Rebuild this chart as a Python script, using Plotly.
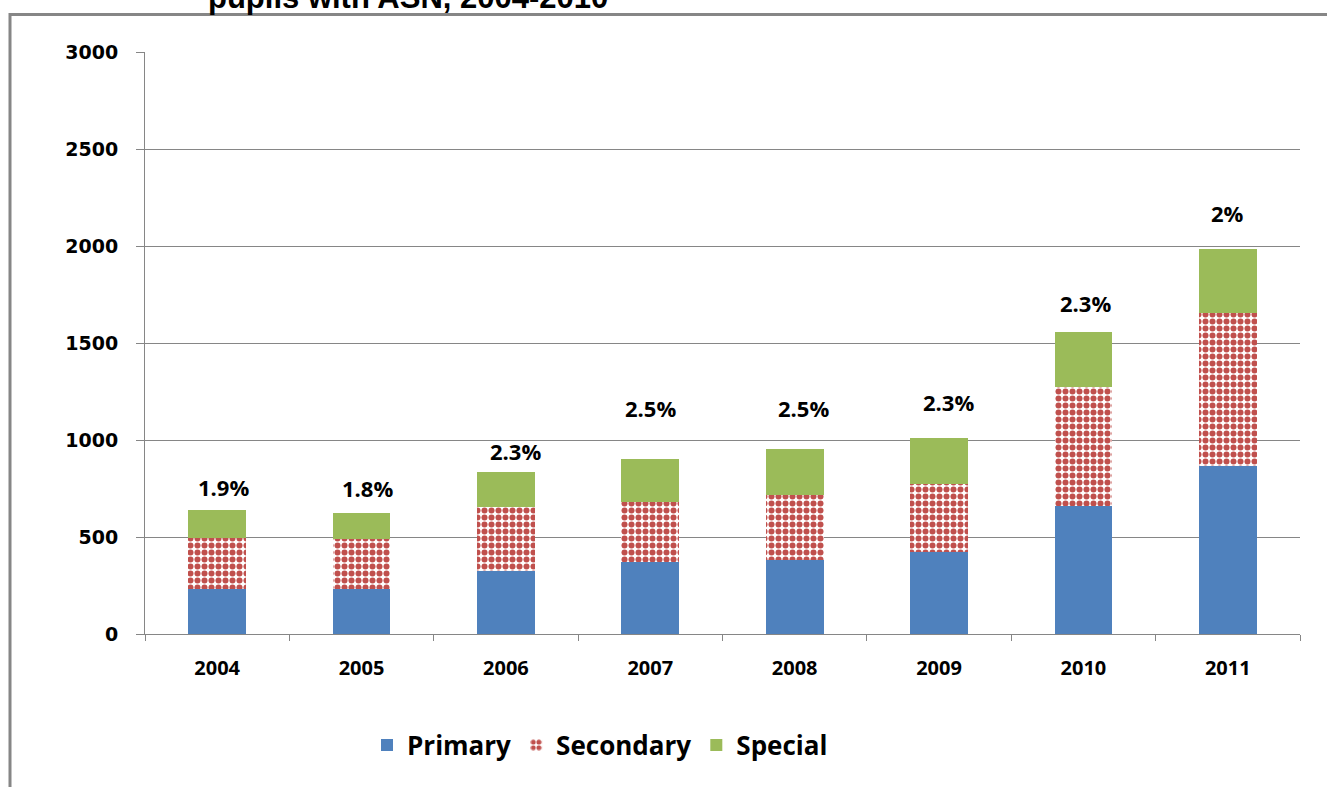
import plotly.graph_objects as go

# Pupils with additional support needs, by school sector
years = ["2004", "2005", "2006", "2007", "2008", "2009", "2010", "2011"]
primary = [232, 232, 325, 373, 381, 424, 661, 868]
secondary = [263, 259, 330, 309, 334, 349, 612, 788]
special = [144, 133, 180, 220, 239, 237, 284, 329]

# Share labels shown above each column
pct_labels = ["1.9%", "1.8%", "2.3%", "2.5%", "2.5%", "2.3%", "2.3%", "2%"]
pct_label_y = [758, 753, 943, 1165, 1165, 1196, 1706, 2170]
pct_label_dx = [6, 6, 10, 0, 9, 9, 2, 0]

y_ticks = [0, 500, 1000, 1500, 2000, 2500, 3000]

GRID = "#868686"
TICK_FONT_X = dict(family="Open Sans", size=20, color="#000000")
TICK_FONT_Y = dict(family="DejaVu Sans", size=19, color="#000000")

fig = go.Figure()
fig.add_trace(go.Bar(
    x=years, y=primary, name="Primary",
    marker=dict(color="#4F81BD", line=dict(width=0)),
))
fig.add_trace(go.Bar(
    x=years, y=secondary, name="Secondary",
    marker=dict(
        color="#FFFFFF", line=dict(width=0),
        pattern=dict(shape=".", fgcolor="#C0504D", bgcolor="#FFFFFF",
                     fgopacity=1, size=7, solidity=0.58, fillmode="replace"),
    ),
))
fig.add_trace(go.Bar(
    x=years, y=special, name="Special",
    marker=dict(color="#9BBB59", line=dict(width=0)),
))

# category axes place annotations by category index
for i, (txt, yv, dx) in enumerate(zip(pct_labels, pct_label_y, pct_label_dx)):
    fig.add_annotation(
        x=i, y=yv, text="<b>%s</b>" % txt, showarrow=False,
        xshift=dx, xanchor="center", yanchor="middle",
        font=dict(family="Open Sans", size=22, color="#000000"),
    )

# Title line (upper part falls outside the page)
fig.add_annotation(
    xref="paper", yref="paper", x=(407.5 - 145) / 1155, y=(634 + 2.6) / 582,
    text="<b>pupils with ASN, 2004-2010</b>", showarrow=False,
    xanchor="center", yanchor="middle",
    font=dict(family="Liberation Sans", size=31, color="#000000"),
)

# Outer chart frame
fig.add_shape(
    type="rect", xref="paper", yref="paper",
    x0=(10 - 145) / 1155, x1=(1345 - 145) / 1155,
    y0=(634 - 810) / 582, y1=(634 - 14.5) / 582,
    line=dict(color=GRID, width=3), fillcolor="rgba(0,0,0,0)", layer="below",
)

fig.update_layout(
    width=1327, height=787,
    margin=dict(l=145, r=27, t=52, b=153),
    paper_bgcolor="#FFFFFF", plot_bgcolor="#FFFFFF",
    barmode="stack", bargap=0.6,
    showlegend=True,
    legend=dict(
        orientation="h", x=(600 - 145) / 1155, y=(634 - 745) / 582,
        xanchor="center", yanchor="middle",
        font=dict(family="Open Sans", size=26, color="#000000", weight="bold"),
        traceorder="normal", itemwidth=30,
    ),
    xaxis=dict(
        type="category", showgrid=False, range=[-0.5, 7.5],
        showline=True, linecolor=GRID, linewidth=1,
        ticks="outside", tickson="boundaries", ticklen=6, tickcolor=GRID,
        tickfont=dict(**TICK_FONT_X, weight="bold"),
        ticklabelstandoff=16,
    ),
    yaxis=dict(
        range=[0, 3000], tickvals=y_ticks,
        showgrid=True, gridcolor=GRID, gridwidth=1,
        showline=True, linecolor=GRID, linewidth=1,
        ticks="outside", ticklen=8, tickcolor=GRID,
        tickfont=dict(**TICK_FONT_Y, weight="bold"),
        ticklabelstandoff=14, zeroline=False,
    ),
)

fig.write_html("out.html")
